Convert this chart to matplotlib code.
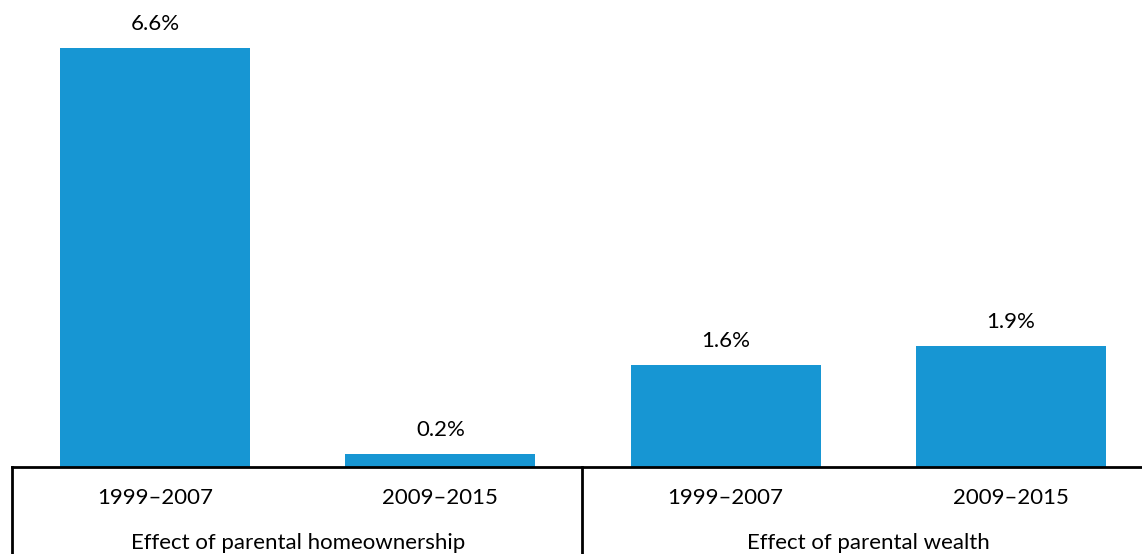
import numpy as np
import matplotlib
matplotlib.use('Agg')
import matplotlib.pyplot as plt

plt.rcParams['font.family'] = ['Lato', 'DejaVu Sans']

periods = ['1999\u20132007', '2009\u20132015', '1999\u20132007', '2009\u20132015']
groups = ['Effect of parental homeownership', 'Effect of parental wealth']
values = [6.6, 0.2, 1.6, 1.9]

blue = '#1796d3'

fig = plt.figure(figsize=(11.42, 5.54), dpi=100)
ax = fig.add_axes([12 / 1142, 87 / 554, 1130 / 1142, 467 / 554])

X = np.arange(len(values))
bars = ax.bar(X, values, width=0.665, color=blue)
for x, v in zip(X, values):
    ax.annotate('%.1f%%' % v, (x, v), xytext=(0, 10), textcoords='offset points',
                ha='center', va='bottom', fontsize=16)

ax.set_xlim(-0.501, 3.459)
ax.set_ylim(0, 7.35)
ax.set_yticks([])
ax.set_xticks([])
for s in ['top', 'right', 'left']:
    ax.spines[s].set_visible(False)
ax.spines['bottom'].set_linewidth(2)

trans = ax.get_xaxis_transform()
for x, p in zip(X, periods):
    ax.text(x, -0.066, p, transform=trans, ha='center', va='center', fontsize=16)
for i, g in enumerate(groups):
    ax.text(2 * i + 0.5, -0.163, g, transform=trans, ha='center', va='center', fontsize=16)
for xv in [-0.501, 1.496]:
    ax.plot([xv, xv], [0, -0.2], transform=trans, color='black', lw=2, clip_on=False)

plt.savefig('out.png', dpi=100)
